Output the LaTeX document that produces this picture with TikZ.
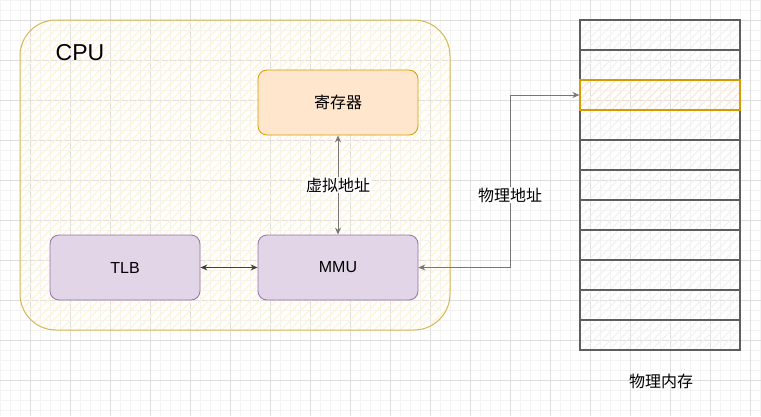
\documentclass[tikz,border=0pt]{standalone}
\usepackage{fontspec}
\setmainfont{Liberation Sans}
\newfontfamily\cjk{Noto Sans CJK SC}
\usetikzlibrary{patterns.meta,arrows.meta}
\definecolor{gridmaj}{HTML}{DEDEDE}
\definecolor{gridmin}{HTML}{F3F3F3}
\definecolor{cpuline}{HTML}{D6B656}
\definecolor{cpuhatch}{HTML}{FFF5D6}
\definecolor{regfill}{HTML}{FFE6CC}
\definecolor{regline}{HTML}{D79B00}
\definecolor{purfill}{HTML}{E1D5E7}
\definecolor{purline}{HTML}{9673A6}
\definecolor{memline}{HTML}{5E5E5E}
\definecolor{memhatch}{HTML}{F2F2F2}
\definecolor{orghatch}{HTML}{FFEBD6}
\definecolor{arrowgray}{HTML}{777777}
\tikzset{
  txt/.style={font=\fontsize{16}{18}\selectfont, text=black},
  cjktxt/.style={font=\fontsize{16}{18}\selectfont\cjk, text=black},
  procbox/.style={draw, rounded corners=9pt, line width=0.8pt, minimum width=160pt, minimum height=65pt, inner sep=0pt, txt},
  memcell/.style={draw=memline, line width=1.2pt, minimum width=160pt, minimum height=30pt, inner sep=0pt,
    pattern={Lines[angle=45,distance=6pt,line width=1.2pt]}, pattern color=memhatch},
  conn/.style={line width=1pt, {Stealth[length=7pt,width=6pt]}-{Stealth[length=7pt,width=6pt]}},
}
\begin{document}
\begin{tikzpicture}[x=1pt,y=-1pt]
\useasboundingbox (0,0) rectangle (761,416);
\fill[white] (0,0) rectangle (761,416);
% grid
\foreach \x in {0,10,...,760} \draw[gridmin, line width=0.6pt] (\x+0.5,0) -- (\x+0.5,416);
\foreach \y in {0,10,...,410} \draw[gridmin, line width=0.6pt] (0,\y) -- (761,\y);
\foreach \x in {30,70,...,750} \draw[gridmaj, line width=0.7pt] (\x+0.5,0) -- (\x+0.5,416);
\foreach \y in {20,60,...,400} \draw[gridmaj, line width=0.7pt] (0,\y) -- (761,\y);
% CPU
\draw[cpuline, line width=1pt, rounded corners=36pt, pattern={Lines[angle=45,distance=6pt,line width=1.3pt]}, pattern color=cpuhatch]
  (20,20) rectangle (450,330);
\node[txt, font=\fontsize{23}{26}\selectfont, anchor=center] (cpulabel) at (80,53) {CPU};
% boxes
\node[procbox, draw=regline, fill=regfill, cjktxt] (reg) at (338,102.5) {寄存器};
\node[procbox, draw=purline, fill=purfill, minimum width=150pt] (tlb) at (125,267.5) {TLB};
\node[procbox, draw=purline, fill=purfill] (mmu) at (338,267.5) {MMU};
% memory
\foreach \i in {0,...,10} {
  \node[memcell] (m\i) at (660,35+30*\i) {};
}
\node[memcell, draw=regline, pattern color=orghatch] (m2) at (660,95) {};
\node[cjktxt, anchor=center] (memlabel) at (661,381) {物理内存};
% connectors
\draw[conn, arrowgray] (reg.south) -- node[cjktxt, fill=white, fill opacity=0.85, text opacity=1, inner sep=1pt] (va) {虚拟地址} (mmu.north);
\draw[conn, black!75] (tlb.east) -- (mmu.east -| mmu.west);
\coordinate (bend1) at (510,267.5);
\coordinate (bend2) at (510,95);
\draw[conn, arrowgray] (mmu.east) -- (bend1) -- node[pos=0.42, cjktxt, fill=white, inner sep=1pt] (pa) {物理地址} (bend2) -- (m2.west);
\end{tikzpicture}
\end{document}
